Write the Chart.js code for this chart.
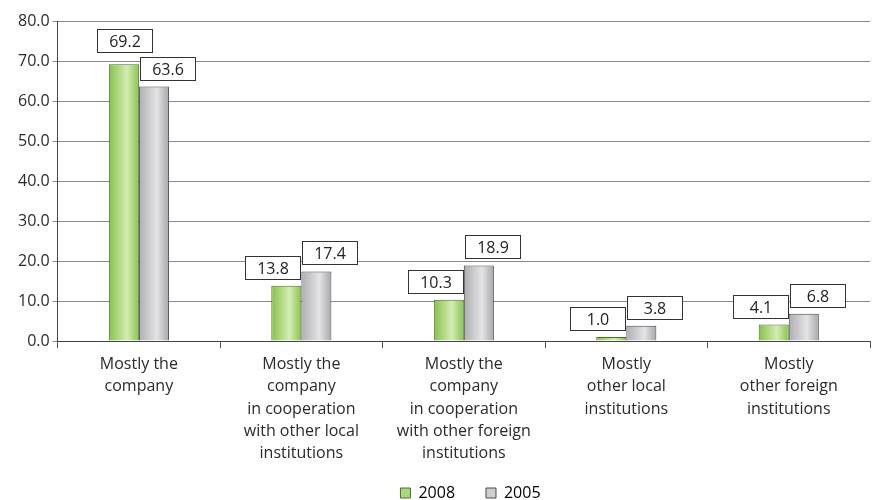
<!DOCTYPE html>
<html>
<head>
<meta charset="utf-8">
<script src="https://cdn.jsdelivr.net/npm/chart.js@4/dist/chart.umd.min.js"></script>
<style>
  html, body { margin: 0; padding: 0; background: #fff; }
  #wrap { width: 875px; height: 500px; }
</style>
</head>
<body>
<div id="wrap"><canvas id="chart" width="875" height="500"></canvas></div>
<script>
const categories = [
  ["Mostly the", "company"],
  ["Mostly the", "company", "in cooperation", "with other local", "institutions"],
  ["Mostly the", "company", "in cooperation", "with other foreign", "institutions"],
  ["Mostly", "other local", "institutions"],
  ["Mostly", "other foreign", "institutions"]
];
const values2008 = [69.2, 13.8, 10.3, 1.0, 4.1];
const values2005 = [63.6, 17.4, 18.9, 3.8, 6.8];
const yTicks = { min: 0, max: 80, step: 10 };

const FONT = "'Open Sans', 'DejaVu Sans', sans-serif";
const CAT_PCT = 0.37;

// horizontal "cylinder" shading per bar
function barGradient(ctx, stops) {
  const chart = ctx.chart;
  const xs = chart.scales.x;
  if (!xs || ctx.dataIndex === undefined) return stops[1];
  const catW = xs.width / categories.length;
  const barW = catW * CAT_PCT / 2;
  const center = xs.getPixelForValue(ctx.dataIndex);
  const left = ctx.datasetIndex === 0 ? center - barW : center;
  const g = chart.ctx.createLinearGradient(left, 0, left + barW, 0);
  g.addColorStop(0, stops[0]);
  g.addColorStop(0.6, stops[1]);
  g.addColorStop(1, stops[2]);
  return g;
}

const boxLabels = {
  id: 'boxLabels',
  afterDatasetsDraw(chart) {
    const c = chart.ctx;
    const w = 55, h = 23, gap = 7;
    const m0 = chart.getDatasetMeta(0).data, m1 = chart.getDatasetMeta(1).data;
    const boxes = [];
    m0.forEach((g, i) => {
      const o = m1[i];
      const gb = { x: g.x + g.width / 2 - w - 1, y: g.y - gap - h, t: values2008[i] };
      const ob = { x: o.x - o.width / 2 + 1, y: o.y - gap - h, t: values2005[i] };
      if (values2008[i] > values2005[i]) {
        // taller 2008 bar: centre its box and keep it clear of the 2005 box
        gb.x = g.x - w / 2 + 1;
        gb.y = Math.min(gb.y, ob.y - h - 5);
      }
      boxes.push(gb, ob);
    });
    c.save();
    c.font = "16px " + FONT;
    c.textAlign = 'center';
    c.textBaseline = 'middle';
    boxes.forEach(b => {
      const x = Math.round(b.x) + 0.5, y = Math.round(b.y) + 0.5;
      c.fillStyle = '#fff';
      c.fillRect(x, y, w, h);
      c.strokeStyle = '#333';
      c.lineWidth = 1;
      c.strokeRect(x, y, w, h);
      c.fillStyle = '#222';
      c.fillText(b.t.toFixed(1), x + w / 2, y + h / 2 + 1);
    });
    c.restore();
  }
};

// nudge the legend right of centre and lower, as in the original
const legendShift = {
  id: 'legendShift',
  afterLayout(chart) {
    const lg = chart.legend;
    lg.left += 28; lg.right += 28;
    lg.top += 9; lg.bottom += 9;
  }
};

Chart.defaults.font.family = FONT;
Chart.defaults.font.size = 16;
Chart.defaults.color = '#2a2a2a';

new Chart(document.getElementById('chart').getContext('2d'), {
  type: 'bar',
  data: {
    labels: categories,
    datasets: [
      {
        label: '2008',
        data: values2008,
        backgroundColor: ctx => barGradient(ctx, ['#86c24a', '#d4ecb4', '#88c44c']),
        borderColor: '#4d6b2e',
        borderWidth: 1,
        categoryPercentage: CAT_PCT,
        barPercentage: 1
      },
      {
        label: '2005',
        data: values2005,
        backgroundColor: ctx => barGradient(ctx, ['#aeaeb3', '#e4e4e6', '#a6a6ab']),
        borderColor: '#4a4a4a',
        borderWidth: 1,
        categoryPercentage: CAT_PCT,
        barPercentage: 1
      }
    ]
  },
  options: {
    responsive: false,
    animation: false,
    layout: { padding: { left: 15, right: 5, top: 21, bottom: -2 } },
    plugins: {
      tooltip: { enabled: false },
      legend: {
        position: 'bottom',
        labels: {
          boxWidth: 10,
          boxHeight: 10,
          padding: 6,
          font: { size: 16 },
          generateLabels: () => [
            { text: '2008      ', fillStyle: '#a9d97a', strokeStyle: '#4d6b2e', lineWidth: 1, datasetIndex: 0 },
            { text: '2005', fillStyle: '#cfcfd3', strokeStyle: '#4a4a4a', lineWidth: 1, datasetIndex: 1 }
          ]
        }
      }
    },
    scales: {
      x: {
        grid: { offset: true, drawOnChartArea: false, color: '#555', tickLength: 7 },
        border: { color: '#444' },
        ticks: { maxRotation: 0, autoSkip: false, padding: 5, font: { size: 16, lineHeight: 1.4 } }
      },
      y: {
        min: yTicks.min,
        max: yTicks.max,
        ticks: { stepSize: yTicks.step, callback: v => v.toFixed(1), padding: 3 },
        grid: { color: '#8a8a8a', tickLength: 5 },
        border: { color: '#444' }
      }
    }
  },
  plugins: [boxLabels, legendShift]
});
</script>
</body>
</html>
